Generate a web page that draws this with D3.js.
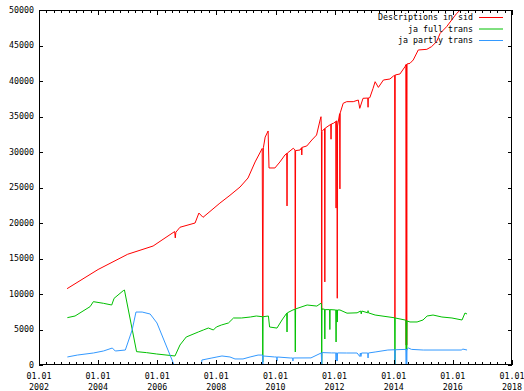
<!DOCTYPE html>
<html>
<head>
<meta charset="utf-8">
<script src="https://cdn.jsdelivr.net/npm/d3@7"></script>
<style>
  body { margin: 0; background: #fff; }
  svg { display: block; }
  text { font-family: 'DejaVu Sans Mono', monospace; font-size: 8.3px; fill: #000; }
  .domain { display: none; }
  .tick line { stroke: #000; shape-rendering: crispEdges; }
</style>
</head>
<body>
<div id="chart"></div>
<script>
// decimal year, value
const descriptions = [
  [2002.95, 10750], [2004.0, 13450], [2005.0, 15600], [2005.86, 16760], [2006.16, 17600],
  [2006.59, 18800], [2006.61, 17900], [2006.63, 18700], [2006.77, 19400], [2007.28, 20000],
  [2007.41, 21400], [2007.55, 20800], [2008.12, 22800], [2008.46, 23900], [2008.80, 25070],
  [2009.07, 26340], [2009.31, 28600], [2009.55, 30500], [2009.57, 6800], [2009.59, 30600],
  [2009.65, 32100], [2009.75, 32960], [2009.78, 27750], [2009.98, 27750], [2010.15, 28600],
  [2010.32, 29580], [2010.38, 29810], [2010.39, 22400], [2010.40, 29850], [2010.49, 30140],
  [2010.60, 30520], [2010.66, 30300], [2010.67, 7900], [2010.68, 30200], [2010.83, 30280],
  [2010.88, 30600], [2010.89, 29580], [2010.90, 30650], [2011.06, 30850], [2011.23, 31690],
  [2011.39, 32390], [2011.51, 34510], [2011.54, 34970], [2011.555, 32860], [2011.565, 7750],
  [2011.575, 32900], [2011.66, 33300], [2011.67, 11700], [2011.68, 33350], [2011.87, 33900],
  [2011.88, 31800], [2011.89, 33950], [2011.96, 34040], [2012.04, 34300], [2012.05, 22100],
  [2012.06, 34350], [2012.08, 34400], [2012.09, 9400], [2012.10, 33660], [2012.17, 35400],
  [2012.18, 24800], [2012.19, 35500], [2012.29, 36860], [2012.41, 37090], [2012.63, 37090],
  [2012.80, 37320], [2012.85, 36150], [2012.96, 37560], [2013.12, 37600], [2013.13, 36300],
  [2013.14, 37620], [2013.19, 37650], [2013.30, 38970], [2013.37, 39900], [2013.48, 39100],
  [2013.65, 40140], [2013.87, 40280], [2013.99, 40700], [2014.03, 40800], [2014.04, 6620],
  [2014.05, 40850], [2014.21, 40990], [2014.38, 42010], [2014.41, 42300], [2014.42, 2800],
  [2014.43, 42350], [2014.44, 2800], [2014.45, 42400], [2014.55, 42490], [2014.66, 42960],
  [2014.83, 44370], [2015.12, 44460], [2015.28, 44840], [2015.45, 45540], [2015.57, 46710],
  [2015.68, 47180], [2015.79, 47650], [2015.96, 48590], [2016.13, 49520], [2016.30, 50200],
  [2016.48, 50900]
];

const jaFull = [
  [2002.96, 6670], [2003.22, 6900], [2003.73, 8220], [2003.84, 8920], [2004.18, 8690],
  [2004.46, 8450], [2004.54, 9390], [2004.85, 10470], [2004.89, 10560], [2005.30, 1880],
  [2005.64, 1740], [2005.98, 1550], [2006.60, 1270], [2006.77, 2820], [2006.98, 3940],
  [2007.39, 4650], [2007.56, 4930], [2007.73, 5210], [2007.90, 4930], [2008.00, 5350],
  [2008.17, 5630], [2008.41, 5920], [2008.58, 6620], [2008.85, 6620], [2009.15, 6760],
  [2009.35, 6900], [2009.56, 6800], [2009.57, 420], [2009.58, 6800], [2009.76, 6900],
  [2009.80, 5350], [2010.05, 5200], [2010.22, 6340], [2010.38, 7300], [2010.39, 4650],
  [2010.40, 7350], [2010.59, 7750], [2010.66, 7850], [2010.67, 1830], [2010.68, 7900],
  [2011.07, 8450], [2011.40, 8300], [2011.54, 8700], [2011.555, 8600], [2011.565, 0],
  [2011.575, 7900], [2011.66, 7850], [2011.67, 3660], [2011.68, 7800], [2011.83, 7800],
  [2011.84, 5000], [2011.85, 7800], [2012.04, 7750], [2012.05, 3240], [2012.06, 7750],
  [2012.08, 7750], [2012.09, 6050], [2012.10, 7750], [2012.18, 7750], [2012.42, 7300],
  [2012.76, 7350], [2012.88, 7600], [2012.90, 7200], [2012.92, 7600], [2013.12, 7350],
  [2013.13, 7650], [2013.14, 7350], [2013.37, 7040], [2014.03, 6650], [2014.04, 0],
  [2014.05, 6620], [2014.38, 6340], [2014.41, 6300], [2014.42, 2100], [2014.43, 6250],
  [2014.44, 2100], [2014.45, 6200], [2014.55, 6060], [2014.79, 6060], [2014.99, 6340],
  [2015.13, 6900], [2015.33, 7040], [2015.63, 6760], [2015.97, 6620], [2016.31, 6340],
  [2016.41, 7320], [2016.48, 7180]
];

const jaPartly = [
  [2002.96, 1130], [2003.30, 1400], [2003.84, 1690], [2004.18, 1970], [2004.48, 2390],
  [2004.58, 1970], [2004.92, 2110], [2005.15, 4930], [2005.28, 7460], [2005.49, 7460],
  [2005.76, 7180], [2005.99, 5920], [2006.57, 0], [2007.50, 0], [2007.51, 700],
  [2007.85, 990], [2008.02, 1130], [2008.19, 1270], [2008.46, 1130], [2008.63, 850],
  [2008.90, 850], [2009.14, 1130], [2009.41, 1400], [2009.56, 1400], [2009.57, 0],
  [2009.58, 1270], [2009.97, 1130], [2010.04, 1130], [2010.05, 560], [2010.06, 1130],
  [2010.50, 990], [2010.58, 990], [2010.59, 560], [2010.60, 990], [2011.20, 1000],
  [2011.55, 1700], [2011.565, 0], [2011.575, 1750], [2011.90, 1700], [2012.04, 1700],
  [2012.05, 560], [2012.06, 1700], [2012.08, 1700], [2012.09, 560], [2012.10, 1700],
  [2012.40, 1690], [2012.76, 1690], [2012.85, 1200], [2012.87, 1690], [2012.89, 1200],
  [2012.91, 1690], [2013.12, 1690], [2013.13, 990], [2013.14, 1690], [2013.37, 1830],
  [2013.80, 2110], [2014.03, 2150], [2014.04, 0], [2014.05, 2150], [2014.41, 2200],
  [2014.42, 0], [2014.43, 2200], [2014.44, 0], [2014.45, 2250], [2014.50, 2390],
  [2014.60, 2200], [2015.00, 2110], [2016.30, 2110], [2016.33, 2250], [2016.48, 2110]
];

const seriesNames = ['Descriptions in sid', 'ja full trans', 'ja partly trans'];
const seriesColors = ['#ff0000', '#00c000', '#3399ff'];
const yTicks = d3.range(0, 50001, 5000);
const xYears = [2002, 2004, 2006, 2008, 2010, 2012, 2014, 2016, 2018];

const W = 524, H = 391;
const margin = { top: 10, right: 12, bottom: 26, left: 39 };

function toDate(t) {
  const yr = Math.floor(t);
  const a = new Date(yr, 0, 1), b = new Date(yr + 1, 0, 1);
  return new Date(+a + (t - yr) * (b - a));
}

const x = d3.scaleTime()
  .domain([new Date(2002, 0, 1), new Date(2018, 0, 1)])
  .range([margin.left, W - margin.right]);
const y = d3.scaleLinear()
  .domain([0, 50000])
  .range([H - margin.bottom, margin.top]);

const svg = d3.select('#chart').append('svg')
  .attr('width', W)
  .attr('height', H);

svg.append('clipPath').attr('id', 'clip')
  .append('rect')
  .attr('x', margin.left).attr('y', margin.top)
  .attr('width', W - margin.left - margin.right)
  .attr('height', H - margin.top - margin.bottom);

const line = d3.line()
  .x(d => x(toDate(d[0])))
  .y(d => y(d[1]));

svg.append('g').attr('clip-path', 'url(#clip)')
  .selectAll('path')
  .data([descriptions, jaFull, jaPartly])
  .join('path')
  .attr('fill', 'none')
  .attr('stroke', (d, i) => seriesColors[i])
  .attr('stroke-width', 1)
  .attr('d', line);

// ticks, mirrored on all four sides
const majors = xYears.map(yr => new Date(yr, 0, 1));
const minors = d3.timeMonth.every(3).range(new Date(2002, 0, 1), new Date(2018, 0, 2));

const plotBottom = H - margin.bottom, plotTop = margin.top;
const plotLeft = margin.left, plotRight = W - margin.right;

svg.append('g').attr('transform', `translate(0,${plotBottom})`)
  .call(d3.axisBottom(x).tickValues(minors).tickSize(-3).tickFormat(''));
svg.append('g').attr('transform', `translate(0,${plotBottom})`)
  .call(d3.axisBottom(x).tickValues(majors).tickSize(-5).tickFormat(''));
svg.append('g').attr('transform', `translate(0,${plotTop})`)
  .call(d3.axisTop(x).tickValues(minors).tickSize(-3).tickFormat(''));
svg.append('g').attr('transform', `translate(0,${plotTop})`)
  .call(d3.axisTop(x).tickValues(majors).tickSize(-5).tickFormat(''));
svg.append('g').attr('transform', `translate(${plotLeft},0)`)
  .call(d3.axisLeft(y).tickValues(yTicks).tickSize(-4).tickFormat(''));
svg.append('g').attr('transform', `translate(${plotRight},0)`)
  .call(d3.axisRight(y).tickValues(yTicks).tickSize(-4).tickFormat(''));

svg.append('rect')
  .attr('x', plotLeft + 0.5).attr('y', plotTop + 0.5)
  .attr('width', plotRight - plotLeft - 1).attr('height', plotBottom - plotTop - 1)
  .attr('fill', 'none')
  .attr('stroke', '#000')
  .attr('shape-rendering', 'crispEdges');

// labels
svg.append('g').selectAll('text')
  .data(yTicks)
  .join('text')
  .attr('x', plotLeft - 5)
  .attr('y', d => y(d))
  .attr('dy', '0.33em')
  .attr('text-anchor', 'end')
  .text(d => d);

const xl = svg.append('g').selectAll('text')
  .data(majors)
  .join('text')
  .attr('text-anchor', 'middle');
xl.append('tspan').attr('x', d => x(d)).attr('y', plotBottom + 14).text(d3.timeFormat('%d.%m'));
xl.append('tspan').attr('x', d => x(d)).attr('y', plotBottom + 25).text(d3.timeFormat('%Y'));

// legend
const legend = svg.append('g').selectAll('g')
  .data(seriesNames)
  .join('g')
  .attr('transform', (d, i) => `translate(0,${17.5 + i * 11.5})`);
legend.append('text')
  .attr('x', 473)
  .attr('dy', '0.33em')
  .attr('text-anchor', 'end')
  .text(d => d);
legend.append('line')
  .attr('x1', 479).attr('x2', 503)
  .attr('stroke', (d, i) => seriesColors[i]);
</script>
</body>
</html>
